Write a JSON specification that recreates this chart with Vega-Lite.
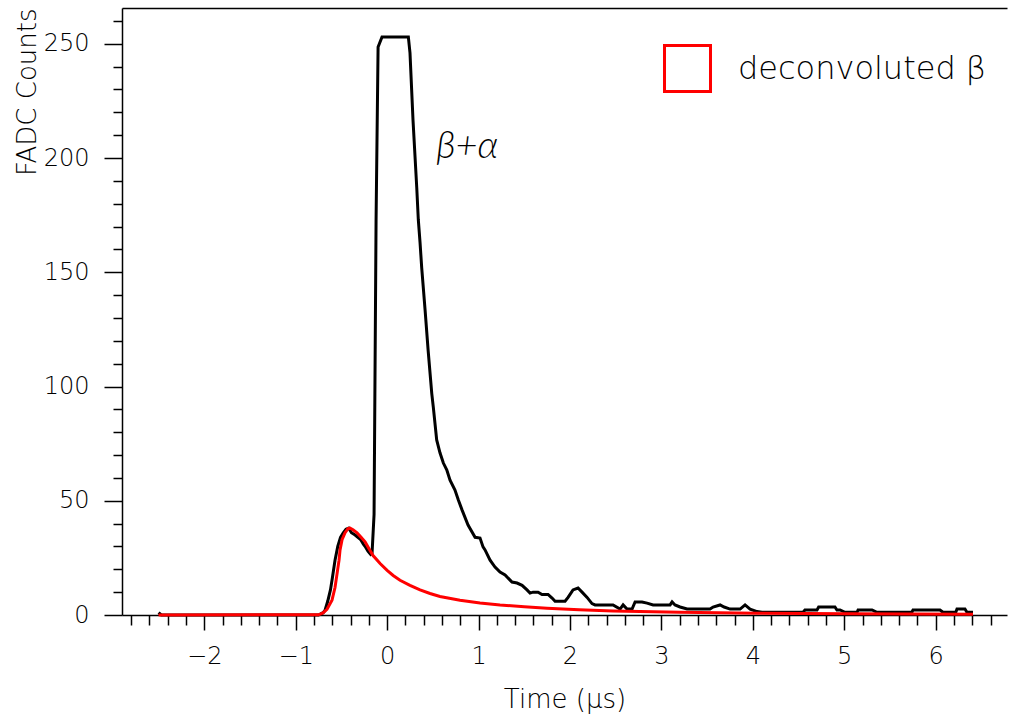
{
  "$schema": "https://vega.github.io/schema/vega-lite/v6.json",
  "width": 885,
  "height": 607,
  "autosize": "none",
  "padding": {"left": 122, "top": 8, "right": 2, "bottom": 104},
  "background": "white",
  "config": {
    "view": {"stroke": null},
    "font": "DejaVu Sans",
    "axis": {
      "labelFont": "DejaVu Sans", "labelFontWeight": 200, "labelFontSize": 24, "labelColor": "#000",
      "titleFont": "DejaVu Sans", "titleFontWeight": 200, "titleFontSize": 26, "titleColor": "#000",
      "domainColor": "#000", "domainWidth": 1.5, "tickColor": "#000", "tickWidth": 1.5, "grid": false
    },
    "legend": {"labelFont": "DejaVu Sans", "labelFontWeight": 200}
  },
  "datasets": {
    "sum": [
      {"t": -2.5, "v": 1}, {"t": -2.47, "v": 0}, {"t": -0.75, "v": 0}, {"t": -0.7, "v": 1}, {"t": -0.68, "v": 2},
      {"t": -0.65, "v": 6}, {"t": -0.62, "v": 11}, {"t": -0.6, "v": 16}, {"t": -0.57, "v": 24}, {"t": -0.54, "v": 30},
      {"t": -0.51, "v": 34}, {"t": -0.48, "v": 36}, {"t": -0.45, "v": 37.5}, {"t": -0.42, "v": 38}, {"t": -0.39, "v": 36},
      {"t": -0.35, "v": 35}, {"t": -0.32, "v": 34}, {"t": -0.29, "v": 33}, {"t": -0.26, "v": 31}, {"t": -0.24, "v": 30},
      {"t": -0.21, "v": 28}, {"t": -0.18, "v": 26.5}, {"t": -0.165, "v": 27}, {"t": -0.143, "v": 44}, {"t": -0.121, "v": 173},
      {"t": -0.099, "v": 248.6}, {"t": -0.056, "v": 253}, {"t": 0.232, "v": 253}, {"t": 0.25, "v": 246}, {"t": 0.283, "v": 216.6},
      {"t": 0.324, "v": 187}, {"t": 0.341, "v": 173}, {"t": 0.36, "v": 163}, {"t": 0.378, "v": 152}, {"t": 0.415, "v": 133.5},
      {"t": 0.448, "v": 116}, {"t": 0.488, "v": 97}, {"t": 0.505, "v": 91}, {"t": 0.542, "v": 76.6}, {"t": 0.578, "v": 71},
      {"t": 0.615, "v": 66.5}, {"t": 0.652, "v": 63.5}, {"t": 0.688, "v": 59}, {"t": 0.742, "v": 54.7}, {"t": 0.779, "v": 50.3},
      {"t": 0.819, "v": 46}, {"t": 0.885, "v": 39.4}, {"t": 0.962, "v": 34}, {"t": 1.016, "v": 33.7}, {"t": 1.049, "v": 29.8},
      {"t": 1.071, "v": 28.5}, {"t": 1.126, "v": 24}, {"t": 1.18, "v": 21}, {"t": 1.235, "v": 18.8}, {"t": 1.29, "v": 17.5},
      {"t": 1.366, "v": 14.4}, {"t": 1.421, "v": 14}, {"t": 1.476, "v": 13}, {"t": 1.53, "v": 11}, {"t": 1.563, "v": 9.6},
      {"t": 1.596, "v": 10}, {"t": 1.651, "v": 10}, {"t": 1.694, "v": 9}, {"t": 1.76, "v": 9}, {"t": 1.804, "v": 7.4},
      {"t": 1.837, "v": 6}, {"t": 1.946, "v": 6}, {"t": 1.979, "v": 7.7}, {"t": 2.033, "v": 11}, {"t": 2.088, "v": 11.8},
      {"t": 2.132, "v": 10}, {"t": 2.187, "v": 7.7}, {"t": 2.241, "v": 5}, {"t": 2.274, "v": 4.4}, {"t": 2.471, "v": 4.4},
      {"t": 2.548, "v": 2.6}, {"t": 2.581, "v": 4.4}, {"t": 2.624, "v": 2.6}, {"t": 2.679, "v": 2.6}, {"t": 2.712, "v": 5.7},
      {"t": 2.788, "v": 5.7}, {"t": 2.843, "v": 5.2}, {"t": 2.909, "v": 4.4}, {"t": 3.095, "v": 4.4}, {"t": 3.117, "v": 5.7},
      {"t": 3.149, "v": 4.4}, {"t": 3.204, "v": 3.5}, {"t": 3.281, "v": 2.6}, {"t": 3.532, "v": 2.6}, {"t": 3.565, "v": 3.5},
      {"t": 3.642, "v": 4.4}, {"t": 3.686, "v": 3.5}, {"t": 3.751, "v": 2.6}, {"t": 3.861, "v": 2.6}, {"t": 3.915, "v": 4.4},
      {"t": 3.97, "v": 2.6}, {"t": 4.046, "v": 1.5}, {"t": 4.1, "v": 1.2}, {"t": 4.55, "v": 1.2}, {"t": 4.57, "v": 2.2},
      {"t": 4.702, "v": 2.2}, {"t": 4.72, "v": 3.5}, {"t": 4.898, "v": 3.5}, {"t": 4.92, "v": 2.2}, {"t": 4.954, "v": 2.2},
      {"t": 5.008, "v": 1.2}, {"t": 5.14, "v": 1.2}, {"t": 5.151, "v": 2.2}, {"t": 5.304, "v": 2.2}, {"t": 5.358, "v": 1.2},
      {"t": 5.74, "v": 1.2}, {"t": 5.752, "v": 2.2}, {"t": 6.047, "v": 2.2}, {"t": 6.08, "v": 1.2}, {"t": 6.22, "v": 1.2},
      {"t": 6.233, "v": 2.6}, {"t": 6.32, "v": 2.6}, {"t": 6.342, "v": 1.2}, {"t": 6.408, "v": 1.2}
    ],
    "deconv": [
      {"t": -2.5, "v": 0}, {"t": -0.75, "v": 0.1}, {"t": -0.702, "v": 0.9}, {"t": -0.658, "v": 2.5}, {"t": -0.603, "v": 6.5},
      {"t": -0.57, "v": 12}, {"t": -0.548, "v": 18}, {"t": -0.526, "v": 24}, {"t": -0.515, "v": 28.5}, {"t": -0.493, "v": 33},
      {"t": -0.46, "v": 36}, {"t": -0.428, "v": 37.8}, {"t": -0.406, "v": 38}, {"t": -0.373, "v": 37.3}, {"t": -0.329, "v": 36},
      {"t": -0.285, "v": 34}, {"t": -0.241, "v": 32}, {"t": -0.198, "v": 29}, {"t": -0.154, "v": 26}, {"t": -0.077, "v": 22.5},
      {"t": 0, "v": 19.5}, {"t": 0.066, "v": 17.3}, {"t": 0.141, "v": 15.2}, {"t": 0.25, "v": 13}, {"t": 0.36, "v": 11},
      {"t": 0.469, "v": 9.4}, {"t": 0.578, "v": 8.1}, {"t": 0.797, "v": 6.5}, {"t": 1.016, "v": 5.3}, {"t": 1.235, "v": 4.4},
      {"t": 1.5, "v": 3.6}, {"t": 1.749, "v": 3}, {"t": 2.1, "v": 2.3}, {"t": 2.471, "v": 1.8}, {"t": 3.204, "v": 1.2},
      {"t": 4.046, "v": 0.8}, {"t": 5.063, "v": 0.5}, {"t": 6.408, "v": 0.3}
    ],
    "labels": [{"t": 0.875, "v": 200, "label": "β+α"}]
  },
  "layer": [
    {
      "data": {"name": "sum"},
      "mark": {"type": "line", "color": "#000", "strokeWidth": 3, "interpolate": "linear"},
      "encoding": {
        "x": {"field": "t", "type": "quantitative", "scale": {"domain": [-2.9, 6.78], "nice": false, "zero": false},
              "axis": {"orient": "bottom", "values": [-2, -1, 0, 1, 2, 3, 4, 5, 6], "tickSize": 15, "labelPadding": 14,
                       "title": "Time (μs)", "titlePadding": 18, "format": "d"}},
        "y": {"field": "v", "type": "quantitative", "scale": {"domain": [0, 265.65], "nice": false},
              "axis": {"orient": "left", "values": [0, 50, 100, 150, 200, 250], "tickSize": 18, "labelPadding": 15,
                       "title": "FADC Counts", "titleAnchor": "end", "titlePadding": 3}}
      }
    },
    {
      "data": {"name": "deconv"},
      "mark": {"type": "line", "strokeWidth": 3},
      "encoding": {
        "x": {"field": "t", "type": "quantitative",
              "axis": {"orient": "bottom", "values": [-2.8, -2.6, -2.4, -2.2, -1.8, -1.6, -1.4, -1.2, -0.8, -0.6, -0.4, -0.2, 0.2, 0.4, 0.6, 0.8, 1.2, 1.4, 1.6, 1.8, 2.2, 2.4, 2.6, 2.8, 3.2, 3.4, 3.6, 3.8, 4.2, 4.4, 4.6, 4.8, 5.2, 5.4, 5.6, 5.8, 6.2, 6.4, 6.6],
                       "tickSize": 10, "labels": false, "domain": false, "title": null}},
        "y": {"field": "v", "type": "quantitative",
              "axis": {"orient": "left", "values": [10, 20, 30, 40, 60, 70, 80, 90, 110, 120, 130, 140, 160, 170, 180, 190, 210, 220, 230, 240, 260],
                       "tickSize": 9, "labels": false, "domain": false, "title": null}},
        "color": {"datum": "deconvoluted β", "type": "nominal", "scale": {"range": ["#ff0000"]},
                  "legend": {"orient": "none", "legendX": 541, "legendY": 36, "title": null, "symbolType": "square",
                             "symbolSize": 2116, "symbolStrokeWidth": 3, "symbolFillColor": "transparent", "symbolStrokeColor": "#ff0000",
                             "labelFontSize": 32, "labelOffset": 26, "labelColor": "#000", "labelLimit": 0, "padding": 0}}
      }
    },
    {
      "data": {"name": "labels"},
      "mark": {"type": "text", "fontSize": 38, "fontStyle": "italic", "font": "Lato", "fontWeight": 300, "align": "center", "baseline": "alphabetic"},
      "encoding": {
        "x": {"field": "t", "type": "quantitative", "axis": {"orient": "top", "ticks": false, "labels": false, "title": null, "domain": true}},
        "y": {"field": "v", "type": "quantitative", "axis": null},
        "text": {"field": "label"}
      }
    }
  ],
  "resolve": {"axis": {"x": "independent", "y": "independent"}}
}
